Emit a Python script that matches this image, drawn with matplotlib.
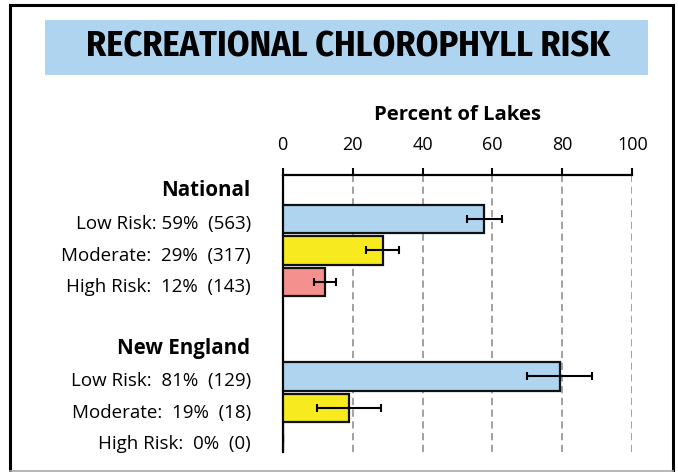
import matplotlib
matplotlib.use("Agg")
import matplotlib.pyplot as plt
from matplotlib.patches import Rectangle
from matplotlib.lines import Line2D

# values
groups = ["National", "New England"]
labels = ["Low Risk: 59%  (563)", "Moderate:  29%  (317)", "High Risk:  12%  (143)",
          "Low Risk:  81%  (129)", "Moderate:  19%  (18)", "High Risk:  0%  (0)"]
values = [57.6, 28.6, 12.1, 79.3, 19.1, 0.0]
err_lo = [5.0, 4.9, 3.1, 9.3, 9.4, 0.0]
err_hi = [5.2, 4.8, 3.1, 9.2, 9.0, 0.0]
ticks = [0, 20, 40, 60, 80, 100]

blue = "#aed4f0"
yellow = "#f7ea1e"
pink = "#f4918e"
colors = [blue, yellow, pink, blue, yellow, pink]
ypos = [0, 1, 2, 5, 6, 7]

body = ["Open Sans", "DejaVu Sans"]
title_font = ["Fira Sans Condensed", "Roboto Condensed", "DejaVu Sans"]

W, H = 678, 472
fig = plt.figure(figsize=(W / 100, H / 100), dpi=100)

# outer frame
fig.add_artist(Line2D([10 / W, 10 / W], [1 - 5 / H, 1 - 470 / H], color="black", lw=2.2, transform=fig.transFigure))
fig.add_artist(Line2D([10 / W, 672.7 / W], [1 - 5 / H, 1 - 5 / H], color="black", lw=2.2, transform=fig.transFigure))
fig.add_artist(Line2D([672.7 / W, 672.7 / W], [1 - 5 / H, 1 - 470 / H], color="black", lw=2.2, transform=fig.transFigure))
fig.add_artist(Line2D([10 / W, 672.7 / W], [1 - 470.5 / H, 1 - 470.5 / H], color="#aaaaaa", lw=1.2, transform=fig.transFigure))

# title banner
fig.add_artist(Rectangle((45 / W, 1 - 75 / H), 603 / W, 55 / H, facecolor=blue, edgecolor="none",
                         transform=fig.transFigure))
fig.text(348.5 / W, 1 - 47 / H, "RECREATIONAL CHLOROPHYLL RISK", ha="center", va="center",
         fontsize=26, fontweight="bold", family=title_font)

ax = fig.add_axes([282.7 / W, 1 - 451.7 / H, 349.6 / W, 276.7 / H])
ax.barh(ypos, values, height=0.9, color=colors, edgecolor="#111111", linewidth=1.6, zorder=3)
ax.errorbar(values, ypos, xerr=[err_lo, err_hi], fmt="none", ecolor="black", elinewidth=1.5,
            capsize=3, capthick=1.5, zorder=4)

ax.set_xlim(0, 100)
ax.set_ylim(7.39, -1.397)
ax.xaxis.tick_top()
ax.set_xticks(ticks)
ax.set_xticklabels([str(t) for t in ticks], family=body, fontsize=13)
ax.tick_params(axis="x", direction="out", length=5, width=1.5, pad=10, color="black")
ax.set_yticks([])
for t in ticks[1:]:
    ax.axvline(t, color="#9a9a9a", lw=1.3, ls=(0, (4, 2.5)), zorder=1)
for s in ["right", "bottom"]:
    ax.spines[s].set_visible(False)
ax.spines["top"].set_linewidth(1.6)
ax.spines["left"].set_linewidth(1.6)

fig.text(457.5 / W, 1 - 115 / H, "Percent of Lakes", ha="center", va="center",
         fontsize=14.6, fontweight="bold", family=body)

# row labels and group headings
for y, lab in zip(ypos, labels):
    ax.text(-0.09, y + 0.16, lab, transform=ax.get_yaxis_transform(), ha="right", va="center",
            fontsize=13.5, family=body)
ax.text(-0.093, -0.9, groups[0], transform=ax.get_yaxis_transform(), ha="right", va="center",
        fontsize=14.8, fontweight="bold", family=body)
ax.text(-0.093, 4.12, groups[1], transform=ax.get_yaxis_transform(), ha="right", va="center",
        fontsize=14.8, fontweight="bold", family=body)

fig.savefig("out.png", dpi=100)
